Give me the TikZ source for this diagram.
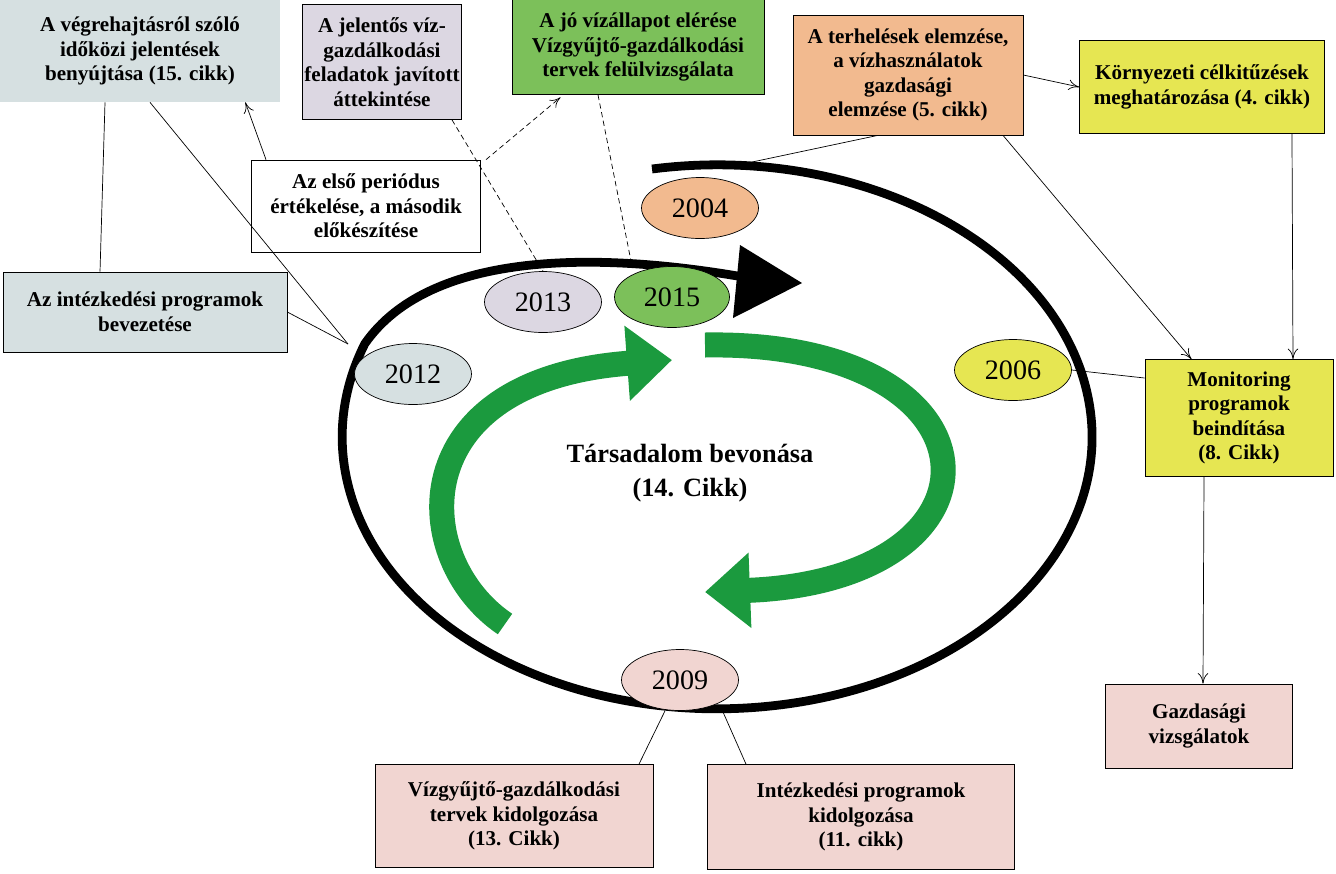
\documentclass[tikz,border=0pt]{standalone}
\usepackage{fontspec}
\setmainfont{Liberation Serif}
\usetikzlibrary{shapes.geometric,arrows.meta}
\definecolor{bluegray}{HTML}{D6E0E1}
\definecolor{lavender}{HTML}{DCD7E2}
\definecolor{leafgreen}{HTML}{7CC05A}
\definecolor{peach}{HTML}{F2BA8F}
\definecolor{lemon}{HTML}{E6E652}
\definecolor{rose}{HTML}{F1D5D1}
\definecolor{arrowgreen}{HTML}{1B9A3E}
\tikzset{
  box/.style={draw,align=center,font=\bfseries\fontsize{12}{14}\selectfont,inner sep=0pt},
  year/.style={draw,ellipse,font=\fontsize{16}{18}\selectfont,inner sep=0pt,minimum width=2.34cm,minimum height=1.22cm},
  link/.style={draw,thin},
  tip/.style={-{To[length=6pt,width=6pt]}}
}
\begin{document}
\begin{tikzpicture}[x=0.02cm,y=-0.02cm]
            \useasboundingbox (0,0) rectangle (1336,873);
            % boxes
            \node[box,fill=bluegray,draw=none,minimum width=5.6cm,minimum height=2.04cm] (report) at (140,51) {A végrehajtásról szóló\\időközi jelentések\\benyújtása (15. cikk)};
            \node[box,fill=lavender,minimum width=3.18cm,minimum height=2.3cm] (review) at (382,62) {A jelentős víz-\\gazdálkodási\\feladatok javított\\áttekintése};
            \node[box,fill=leafgreen,minimum width=5.04cm,minimum height=1.9cm] (goal) at (638,47) {A jó vízállapot elérése\\Vízgyűjtő-gazdálkodási\\tervek felülvizsgálata};
            \node[box,fill=peach,minimum width=4.6cm,minimum height=2.4cm] (load) at (908,75) {A terhelések elemzése,\\a vízhasználatok\\gazdasági\\elemzése (5. cikk)};
            \node[box,fill=lemon,minimum width=4.9cm,minimum height=1.86cm] (target) at (1202,87) {Környezeti célkitűzések\\meghatározása (4. cikk)};
            \node[box,fill=white,minimum width=4.58cm,minimum height=1.84cm] (eval) at (366,206) {Az első periódus\\értékelése, a második\\előkészítése};
            \node[box,fill=bluegray,minimum width=5.68cm,minimum height=1.6cm] (apply) at (145,312) {Az intézkedési programok\\bevezetése};
            \node[box,fill=lemon,minimum width=3.76cm,minimum height=2.34cm] (monit) at (1239,418) {Monitoring\\programok\\beindítása\\ (8. Cikk)};
            \node[box,fill=rose,minimum width=3.74cm,minimum height=1.68cm] (econ) at (1199,726) {Gazdasági\\vizsgálatok};
            \node[box,fill=rose,minimum width=5.56cm,minimum height=2.06cm] (plan) at (514,816) {Vízgyűjtő-gazdálkodási\\tervek kidolgozása\\(13. Cikk)};
            \node[box,fill=rose,minimum width=6.14cm,minimum height=2.1cm] (measure) at (861,817) {Intézkedési programok\\kidolgozása\\(11. cikk)};
            % cycle
            \draw[line width=5pt] (652,169) arc[start angle=100,end angle=-200,x radius=7.5cm,y radius=5.44cm]
                .. controls (430,250) and (600,250) .. (760,280);
            \fill (740,245) -- (802,283) -- (733,318) -- cycle;
            \draw[line width=0.5cm,arrowgreen,-{Triangle[length=0.9cm,width=1.45cm]}] (505,624) .. controls (410,560) and (400,380) .. (672,360);
            \draw[line width=0.5cm,arrowgreen,-{Triangle[length=0.9cm,width=1.45cm]}] (705,345) .. controls (1010,340) and (1020,580) .. (705,592);
            \node[font=\bfseries\fontsize{15}{19}\selectfont,align=center] (society) at (690,473) {Társadalom bevonása\\(14. Cikk)};
            % years
            \node[year,fill=peach] (y04) at (700,208) {2004};
            \node[year,fill=lavender] (y13) at (543,302) {2013};
            \node[year,fill=leafgreen,minimum width=2.3cm] (y15) at (672,297) {2015};
            \node[year,fill=bluegray] (y12) at (413,374) {2012};
            \node[year,fill=lemon] (y06) at (1013,370) {2006};
            \node[year,fill=rose] (y09) at (680,680) {2009};
            \coordinate (ring12) at (348,344);
            \coordinate (ring04) at (738,165);
            % connectors
            \draw[link] ([xshift=-0.7cm]report.south) -- ([xshift=-0.9cm]apply.north);
            \draw[link] ([xshift=0.2cm]report.south) -- (ring12);
            \draw[link] (apply.east) -- (ring12);
            \draw[link,tip] ([xshift=-2cm]eval.north) -- ([xshift=-0.7cm]report.south east);
            \draw[link,tip,densely dashed] ([xshift=2.4cm]eval.north) -- ([xshift=-1.55cm,yshift=-0.05cm]goal.south);
            \draw[link,densely dashed] ([xshift=1.4cm]review.south) -- (y13.north);
            \draw[link,densely dashed] ([xshift=-0.8cm]goal.south) -- ([xshift=-0.8cm]y15.north);
            \draw[link] (ring04) -- ([xshift=-0.6cm]load.south);
            \draw[link,tip] (load.east) -- (target.west);
            \draw[link,tip] ([xshift=1.9cm]load.south) -- ([xshift=-0.95cm]monit.north);
            \draw[link,tip] ([xshift=1.8cm]target.south) -- ([xshift=1.08cm]monit.north);
            \draw[link] (y06.east) -- ([yshift=0.8cm]monit.west);
            \draw[link,tip] ([xshift=-0.7cm]monit.south) -- ([xshift=0.08cm]econ.north);
            \draw[link] ([xshift=-0.3cm]y09.south) -- ([xshift=2.5cm]plan.north);
            \draw[link] ([xshift=0.85cm]y09.south) -- ([xshift=-2.3cm]measure.north);
\end{tikzpicture}
\end{document}
